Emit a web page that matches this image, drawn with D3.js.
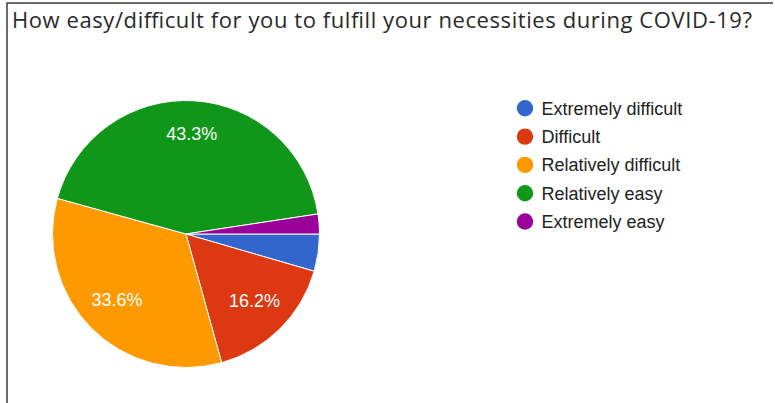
<!DOCTYPE html>
<html>
<head>
<meta charset="utf-8">
<script src="https://cdn.jsdelivr.net/npm/d3@7"></script>
<style>
  html, body { margin: 0; padding: 0; background: #fff; }
  svg { display: block; }
</style>
</head>
<body>
<svg id="chart" width="775" height="403"></svg>
<script>
// Survey answers and their share of responses (percent)
const categories = ["Extremely difficult", "Difficult", "Relatively difficult", "Relatively easy", "Extremely easy"];
const shares = [4.5, 16.2, 33.6, 43.3, 2.4];
const colors = ["#3366cc", "#dc3912", "#ff9900", "#109618", "#990099"];
const title = "How easy/difficult for you to fulfill your necessities during COVID-19?";

const svg = d3.select("#chart");

// Frame along the top and left edges
svg.append("path")
  .attr("d", "M7,403 V3 H773")
  .attr("fill", "none")
  .attr("stroke", "#3c3c3c")
  .attr("stroke-width", 1.5);

svg.append("text")
  .attr("x", 12)
  .attr("y", 27.5)
  .attr("font-family", "'Open Sans', Roboto, Arial, sans-serif")
  .attr("font-size", 22)
  .attr("textLength", 740)
  .attr("lengthAdjust", "spacing")
  .attr("fill", "#2a2a2a")
  .text(title);

const data = categories.map((c, i) => ({ name: c, value: shares[i], color: colors[i] }));

const cx = 186, cy = 234, r = 133.5;

// Slices run clockwise from 3 o'clock
const pie = d3.pie().value(d => d.value).sort(null)
  .startAngle(Math.PI / 2).endAngle(Math.PI / 2 + 2 * Math.PI);
const arcs = pie(data);

const arc = d3.arc().innerRadius(0).outerRadius(r);
const labelArc = d3.arc().innerRadius(r * 0.73).outerRadius(r * 0.73);

const g = svg.append("g").attr("transform", `translate(${cx},${cy})`);

g.selectAll("path.slice")
  .data(arcs)
  .join("path")
  .attr("class", "slice")
  .attr("d", arc)
  .attr("fill", d => d.data.color)
  .attr("stroke", "#fff")
  .attr("stroke-width", 1);

// Percentage labels on slices large enough to hold them
g.selectAll("text.pct")
  .data(arcs.filter(d => d.data.value >= 10))
  .join("text")
  .attr("class", "pct")
  .attr("transform", d => {
    const [x, y0] = labelArc.centroid(d);
    return `translate(${x},${y0 - 3})`;
  })
  .attr("text-anchor", "middle")
  .attr("dy", "0.36em")
  .attr("font-family", "Arial, 'Liberation Sans', sans-serif")
  .attr("font-size", 18)
  .attr("fill", "#fff")
  .text(d => d.data.value.toFixed(1) + "%");

// Legend
const y = d3.scalePoint().domain(categories).range([108.3, 221.5]);
const legend = svg.append("g");
const rows = legend.selectAll("g")
  .data(data)
  .join("g")
  .attr("transform", d => `translate(525,${y(d.name)})`);

rows.append("circle")
  .attr("r", 8.2)
  .attr("fill", d => d.color);

rows.append("text")
  .attr("x", 16.5)
  .attr("dy", "0.36em")
  .attr("font-family", "Arial, 'Liberation Sans', sans-serif")
  .attr("font-size", 18)
  .attr("fill", "#222")
  .text(d => d.name);
</script>
</body>
</html>
